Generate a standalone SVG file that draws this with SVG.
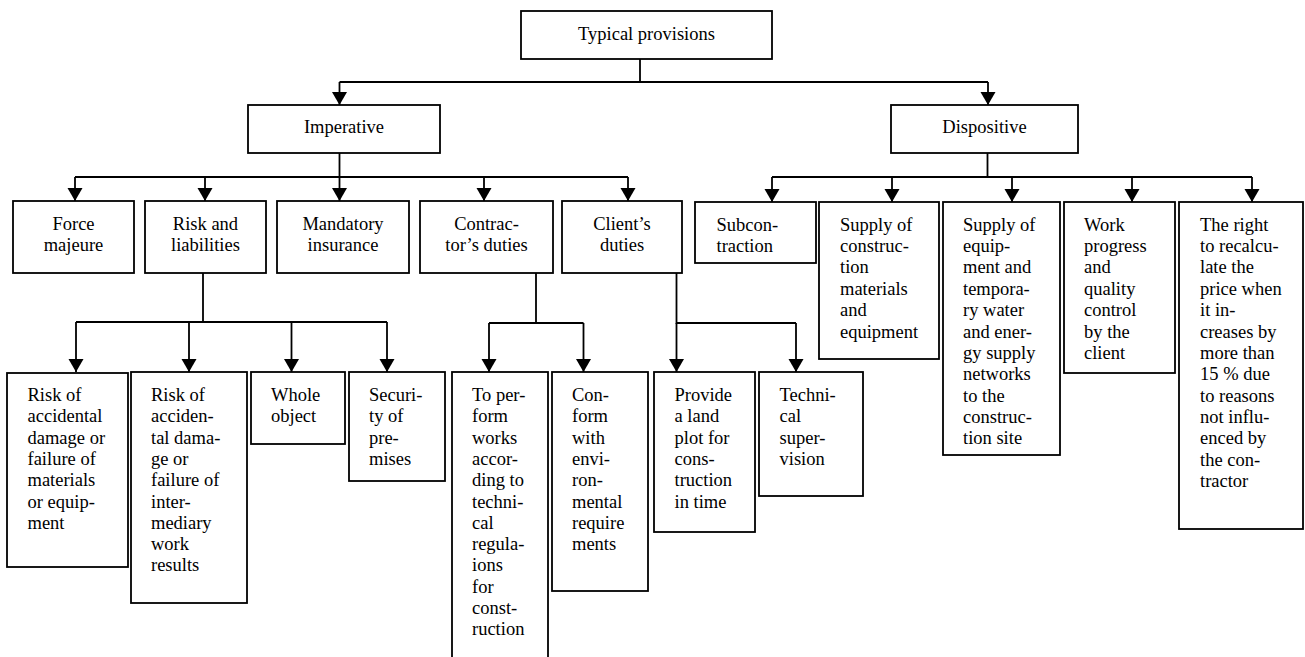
<svg xmlns="http://www.w3.org/2000/svg" width="1305" height="657" viewBox="0 0 1305 657">
<defs>
<style>
.box{fill:#fff;stroke:#000;stroke-width:1.8}
.t{font-family:"Liberation Serif","Times New Roman",serif;font-size:18.5px;fill:#000}
.c{text-anchor:middle}
.ln{fill:none;stroke:#000;stroke-width:1.8}
.ar{fill:none;stroke:#000;stroke-width:1.8;marker-end:url(#ah)}
</style>
<marker id="ah" markerUnits="userSpaceOnUse" markerWidth="14" markerHeight="16" refX="13" refY="7.5" orient="auto" viewBox="0 0 14 16">
<path d="M0,0 L13,7.5 L0,15 z" fill="#000"/>
</marker>
</defs>
<rect width="1305" height="657" fill="#fff"/>
<g id="connectors">
<path class="ln" d="M640,59 V82 M339.5,82 H988"/>
<path class="ar" d="M339.5,82 V105"/>
<path class="ar" d="M988,82 V105"/>
<path class="ln" d="M339.5,153 V177 M75,177 H628"/>
<path class="ar" d="M75,177 V201"/>
<path class="ar" d="M205,177 V201"/>
<path class="ar" d="M339.5,177 V201"/>
<path class="ar" d="M484,177 V201"/>
<path class="ar" d="M628,177 V201"/>
<path class="ln" d="M987.5,153 V177 M772,177 H1252"/>
<path class="ar" d="M772,177 V202"/>
<path class="ar" d="M892,177 V202"/>
<path class="ar" d="M1012,177 V202"/>
<path class="ar" d="M1132,177 V202"/>
<path class="ar" d="M1252,177 V202"/>
<path class="ln" d="M203,273 V322 M76,322 H387"/>
<path class="ar" d="M76,322 V372"/>
<path class="ar" d="M189,322 V372"/>
<path class="ar" d="M291.5,322 V372"/>
<path class="ar" d="M387,322 V372"/>
<path class="ln" d="M536,273 V323 M489,323 H583.5"/>
<path class="ar" d="M489,323 V372"/>
<path class="ar" d="M583.5,323 V372"/>
<path class="ln" d="M676.5,273 V323 H796"/>
<path class="ar" d="M676.5,323 V372"/>
<path class="ar" d="M796,323 V372"/>
</g>
<g id="typical"><rect class="box" x="521" y="11" width="251" height="48"/><text class="t c" x="646.5" y="40">Typical provisions</text></g>
<g id="imperative"><rect class="box" x="248" y="105" width="192" height="48"/><text class="t c" x="344" y="133">Imperative</text></g>
<g id="dispositive"><rect class="box" x="891" y="105" width="187" height="48"/><text class="t c" x="984.5" y="133">Dispositive</text></g>

<g id="force"><rect class="box" x="13" y="201" width="121" height="72"/><text class="t c" y="229.5"><tspan x="73.5">Force</tspan><tspan x="73.5" dy="21.4">majeure</tspan></text></g>
<g id="risk"><rect class="box" x="145" y="201" width="121" height="72"/><text class="t c" y="229.5"><tspan x="205.5">Risk and</tspan><tspan x="205.5" dy="21.4">liabilities</tspan></text></g>
<g id="insurance"><rect class="box" x="277" y="201" width="132" height="72"/><text class="t c" y="229.5"><tspan x="343">Mandatory</tspan><tspan x="343" dy="21.4">insurance</tspan></text></g>
<g id="contractor"><rect class="box" x="420" y="201" width="133" height="72"/><text class="t c" y="229.5"><tspan x="486.5">Contrac-</tspan><tspan x="486.5" dy="21.4">tor’s duties</tspan></text></g>
<g id="client"><rect class="box" x="562" y="201" width="120" height="72"/><text class="t c" y="229.5"><tspan x="622">Client’s</tspan><tspan x="622" dy="21.4">duties</tspan></text></g>

<g id="subcontraction"><rect class="box" x="695" y="202" width="121" height="61"/><text class="t" y="230.5"><tspan x="716.5">Subcon-</tspan><tspan x="716.5" dy="21.4">traction</tspan></text></g>
<g id="supply-materials"><rect class="box" x="819" y="202" width="120" height="157"/><text class="t" y="230.5"><tspan x="840">Supply of</tspan><tspan x="840" dy="21.4">construc-</tspan><tspan x="840" dy="21.4">tion</tspan><tspan x="840" dy="21.4">materials</tspan><tspan x="840" dy="21.4">and</tspan><tspan x="840" dy="21.4">equipment</tspan></text></g>
<g id="supply-equipment"><rect class="box" x="943" y="202" width="117" height="253"/><text class="t" y="230.5"><tspan x="963">Supply of</tspan><tspan x="963" dy="21.4">equip-</tspan><tspan x="963" dy="21.4">ment and</tspan><tspan x="963" dy="21.4">tempora-</tspan><tspan x="963" dy="21.4">ry water</tspan><tspan x="963" dy="21.4">and ener-</tspan><tspan x="963" dy="21.4">gy supply</tspan><tspan x="963" dy="21.4">networks</tspan><tspan x="963" dy="21.4">to the</tspan><tspan x="963" dy="21.4">construc-</tspan><tspan x="963" dy="21.4">tion site</tspan></text></g>
<g id="work-progress"><rect class="box" x="1064" y="202" width="111" height="171"/><text class="t" y="230.5"><tspan x="1084">Work</tspan><tspan x="1084" dy="21.4">progress</tspan><tspan x="1084" dy="21.4">and</tspan><tspan x="1084" dy="21.4">quality</tspan><tspan x="1084" dy="21.4">control</tspan><tspan x="1084" dy="21.4">by the</tspan><tspan x="1084" dy="21.4">client</tspan></text></g>
<g id="recalculate"><rect class="box" x="1179" y="202" width="124" height="327"/><text class="t" y="230.5"><tspan x="1200">The right</tspan><tspan x="1200" dy="21.4">to recalcu-</tspan><tspan x="1200" dy="21.4">late the</tspan><tspan x="1200" dy="21.4">price when</tspan><tspan x="1200" dy="21.4">it in-</tspan><tspan x="1200" dy="21.4">creases by</tspan><tspan x="1200" dy="21.4">more than</tspan><tspan x="1200" dy="21.4">15 % due</tspan><tspan x="1200" dy="21.4">to reasons</tspan><tspan x="1200" dy="21.4">not influ-</tspan><tspan x="1200" dy="21.4">enced by</tspan><tspan x="1200" dy="21.4">the con-</tspan><tspan x="1200" dy="21.4">tractor</tspan></text></g>

<g id="risk-materials"><rect class="box" x="7" y="373" width="121" height="194"/><text class="t" y="401"><tspan x="27.5">Risk of</tspan><tspan x="27.5" dy="21.3">accidental</tspan><tspan x="27.5" dy="21.3">damage or</tspan><tspan x="27.5" dy="21.3">failure of</tspan><tspan x="27.5" dy="21.3">materials</tspan><tspan x="27.5" dy="21.3">or equip-</tspan><tspan x="27.5" dy="21.3">ment</tspan></text></g>
<g id="risk-intermediary"><rect class="box" x="131" y="372" width="116" height="231"/><text class="t" y="401"><tspan x="151">Risk of</tspan><tspan x="151" dy="21.3">acciden-</tspan><tspan x="151" dy="21.3">tal dama-</tspan><tspan x="151" dy="21.3">ge or</tspan><tspan x="151" dy="21.3">failure of</tspan><tspan x="151" dy="21.3">inter-</tspan><tspan x="151" dy="21.3">mediary</tspan><tspan x="151" dy="21.3">work</tspan><tspan x="151" dy="21.3">results</tspan></text></g>
<g id="whole-object"><rect class="box" x="251" y="372" width="94" height="72"/><text class="t" y="401"><tspan x="271">Whole</tspan><tspan x="271" dy="21.3">object</tspan></text></g>
<g id="security"><rect class="box" x="349" y="372" width="96" height="109"/><text class="t" y="401"><tspan x="369">Securi-</tspan><tspan x="369" dy="21.3">ty of</tspan><tspan x="369" dy="21.3">pre-</tspan><tspan x="369" dy="21.3">mises</tspan></text></g>
<g id="perform-works"><rect class="box" x="452" y="372" width="96" height="300"/><text class="t" y="401"><tspan x="472">To per-</tspan><tspan x="472" dy="21.3">form</tspan><tspan x="472" dy="21.3">works</tspan><tspan x="472" dy="21.3">accor-</tspan><tspan x="472" dy="21.3">ding to</tspan><tspan x="472" dy="21.3">techni-</tspan><tspan x="472" dy="21.3">cal</tspan><tspan x="472" dy="21.3">regula-</tspan><tspan x="472" dy="21.3">ions</tspan><tspan x="472" dy="21.3">for</tspan><tspan x="472" dy="21.3">const-</tspan><tspan x="472" dy="21.3">ruction</tspan></text></g>
<g id="conform"><rect class="box" x="552" y="372" width="96" height="219"/><text class="t" y="401"><tspan x="572">Con-</tspan><tspan x="572" dy="21.3">form</tspan><tspan x="572" dy="21.3">with</tspan><tspan x="572" dy="21.3">envi-</tspan><tspan x="572" dy="21.3">ron-</tspan><tspan x="572" dy="21.3">mental</tspan><tspan x="572" dy="21.3">require</tspan><tspan x="572" dy="21.3">ments</tspan></text></g>
<g id="land-plot"><rect class="box" x="654" y="372" width="101" height="160"/><text class="t" y="401"><tspan x="674.5">Provide</tspan><tspan x="674.5" dy="21.3">a land</tspan><tspan x="674.5" dy="21.3">plot for</tspan><tspan x="674.5" dy="21.3">cons-</tspan><tspan x="674.5" dy="21.3">truction</tspan><tspan x="674.5" dy="21.3">in time</tspan></text></g>
<g id="technical-supervision"><rect class="box" x="759" y="372" width="104" height="124"/><text class="t" y="401"><tspan x="779.5">Techni-</tspan><tspan x="779.5" dy="21.3">cal</tspan><tspan x="779.5" dy="21.3">super-</tspan><tspan x="779.5" dy="21.3">vision</tspan></text></g>
</svg>
